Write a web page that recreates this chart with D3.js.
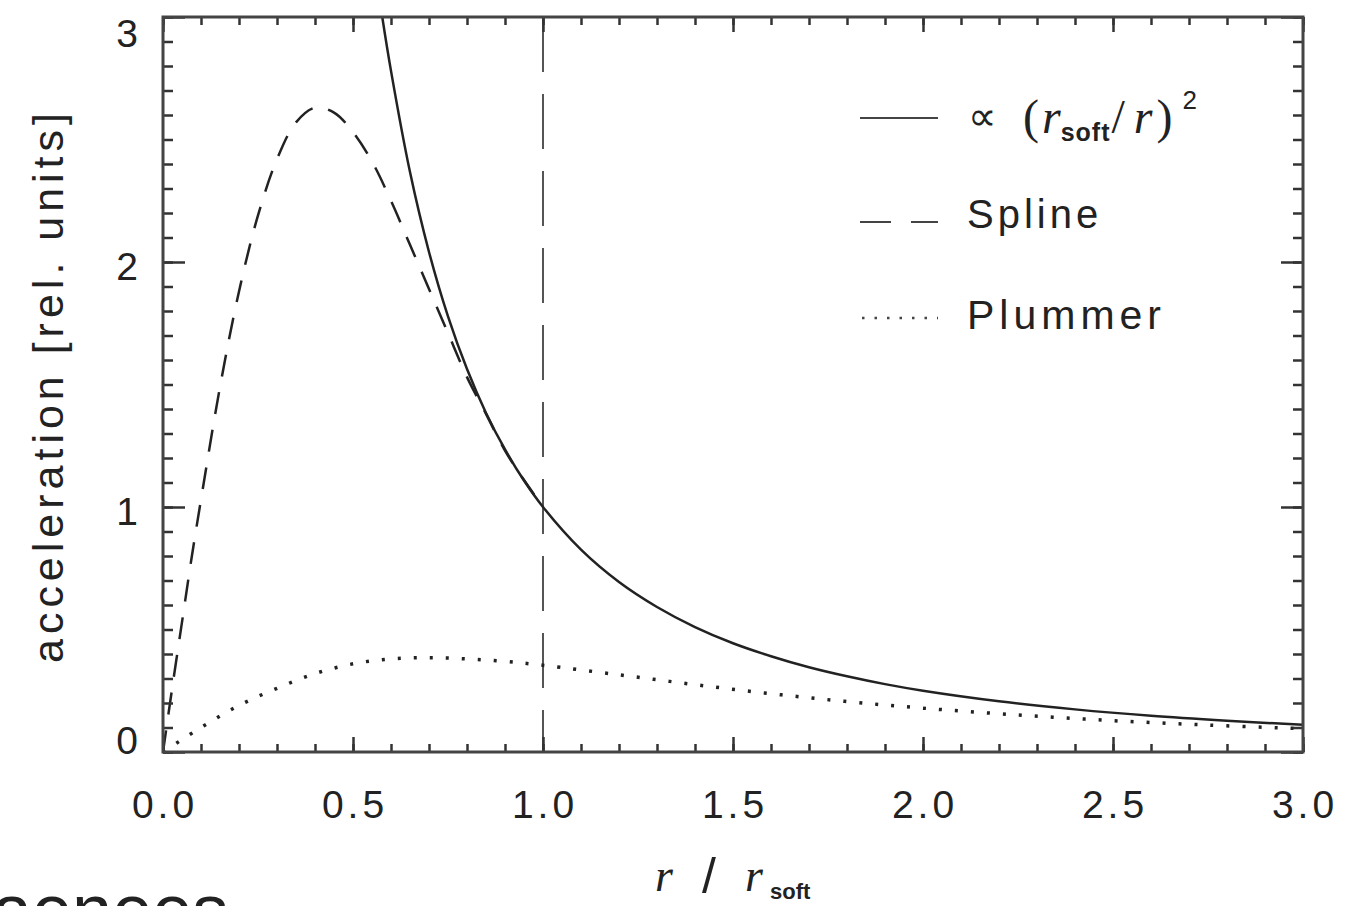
<!DOCTYPE html>
<html>
<head>
<meta charset="utf-8">
<script src="https://cdn.jsdelivr.net/npm/d3@7"></script>
<style>
  body { margin: 0; background: #fff; overflow: hidden; }
  text { fill: #222; }
</style>
</head>
<body>
<script>
var width = 1346,
    height = 906;

var margin = {top: 17, right: 43, bottom: 154, left: 163};

// values
var xTicks = [0.0, 0.5, 1.0, 1.5, 2.0, 2.5, 3.0];
var xTickLabels = ["0.0", "0.5", "1.0", "1.5", "2.0", "2.5", "3.0"];
var yTicks = [0, 1, 2, 3];
var yTickLabels = ["0", "1", "2", "3"];

// solid: proportional to (r_soft/r)^2
var solidR = [0.577, 0.6, 0.65, 0.7, 0.75, 0.8, 0.85, 0.9, 0.95, 1.0, 1.1, 1.2, 1.3, 1.4, 1.5, 1.6, 1.7, 1.8, 1.9, 2.0, 2.2, 2.4, 2.6, 2.8, 3.0];
var solidA = [3.0, 2.78, 2.367, 2.041, 1.778, 1.563, 1.384, 1.235, 1.108, 1.0, 0.826, 0.694, 0.592, 0.510, 0.444, 0.391, 0.346, 0.309, 0.277, 0.25, 0.207, 0.174, 0.148, 0.128, 0.111];

// dashed: spline softening
var splineR = [0, 0.025, 0.05, 0.075, 0.1, 0.15, 0.2, 0.25, 0.3, 0.35, 0.4, 0.45, 0.5, 0.55, 0.6, 0.65, 0.7, 0.75, 0.8, 0.85, 0.9, 0.95, 1.0];
var splineA = [0, 0.27, 0.53, 0.79, 1.03, 1.49, 1.88, 2.19, 2.42, 2.57, 2.63, 2.61, 2.53, 2.41, 2.25, 2.07, 1.89, 1.71, 1.53, 1.38, 1.23, 1.11, 1.0];

// dotted: Plummer softening
var plummerR = [0, 0.1, 0.2, 0.3, 0.4, 0.5, 0.6, 0.7, 0.8, 0.9, 1.0, 1.2, 1.4, 1.6, 1.8, 2.0, 2.25, 2.5, 2.75, 3.0];
var plummerA = [0, 0.10, 0.19, 0.26, 0.32, 0.36, 0.38, 0.385, 0.38, 0.37, 0.354, 0.315, 0.275, 0.238, 0.206, 0.179, 0.151, 0.128, 0.110, 0.095];

var softLine = 1.0;

var w = width - margin.left - margin.right,
    h = height - margin.top - margin.bottom;

var svg = d3.select("body").append("svg")
    .attr("width", width)
    .attr("height", height)
    .style("font-family", "'Liberation Sans', Arial, sans-serif");

var g = svg.append("g")
    .attr("transform", "translate(" + margin.left + "," + margin.top + ")");

var xScale = d3.scaleLinear().domain([0, 3]).range([0, w]);
var yScale = d3.scaleLinear().domain([0, 3]).range([h, 0]);

var zip = function (xs, ys) {
    return xs.map(function (x, i) { return {r: x, a: ys[i]}; });
};

g.append("clipPath").attr("id", "plotclip")
  .append("rect").attr("width", w).attr("height", h);

var line = d3.line()
    .x(function (d) { return xScale(d.r); })
    .y(function (d) { return yScale(d.a); })
    .curve(d3.curveCatmullRom.alpha(0.5));

var curves = g.append("g").attr("clip-path", "url(#plotclip)");

// vertical line at r = r_soft
curves.append("line")
    .attr("x1", xScale(softLine)).attr("x2", xScale(softLine))
    .attr("y1", yScale(3)).attr("y2", yScale(0))
    .attr("stroke", "#555")
    .attr("stroke-width", 2)
    .attr("stroke-dasharray", "55,22");

curves.append("path")
    .datum(zip(plummerR, plummerA))
    .attr("fill", "none")
    .attr("stroke", "#222")
    .attr("stroke-width", 3.5)
    .attr("stroke-dasharray", "3,13")
    .attr("d", line);

curves.append("path")
    .datum(zip(splineR, splineA))
    .attr("fill", "none")
    .attr("stroke", "#222")
    .attr("stroke-width", 2.5)
    .attr("stroke-dasharray", "22,16")
    .attr("d", line);

curves.append("path")
    .datum(zip(solidR, solidA))
    .attr("fill", "none")
    .attr("stroke", "#222")
    .attr("stroke-width", 2.5)
    .attr("d", line);

// axes: ticks point inward on all four sides
var xMinor = xScale.ticks(30);
var yMinor = yScale.ticks(30);

var styleAxis = function (sel) {
    sel.select(".domain").remove();
    sel.selectAll(".tick line").attr("stroke", "#333").attr("stroke-width", 2.5);
    sel.selectAll("text").remove();
};

g.append("g").attr("transform", "translate(0," + h + ")")
    .call(d3.axisBottom(xScale).tickValues(xMinor).tickSize(-8)).call(styleAxis);
g.append("g").attr("transform", "translate(0," + h + ")")
    .call(d3.axisBottom(xScale).tickValues(xTicks).tickSize(-15)).call(styleAxis);
g.append("g")
    .call(d3.axisTop(xScale).tickValues(xMinor).tickSize(-8)).call(styleAxis);
g.append("g")
    .call(d3.axisTop(xScale).tickValues(xTicks).tickSize(-15)).call(styleAxis);
g.append("g")
    .call(d3.axisLeft(yScale).tickValues(yMinor).tickSize(-10)).call(styleAxis);
g.append("g")
    .call(d3.axisLeft(yScale).tickValues(yTicks).tickSize(-22)).call(styleAxis);
g.append("g").attr("transform", "translate(" + w + ",0)")
    .call(d3.axisRight(yScale).tickValues(yMinor).tickSize(-10)).call(styleAxis);
g.append("g").attr("transform", "translate(" + w + ",0)")
    .call(d3.axisRight(yScale).tickValues(yTicks).tickSize(-22)).call(styleAxis);

g.append("rect")
    .attr("width", w).attr("height", h)
    .attr("fill", "none")
    .attr("stroke", "#444")
    .attr("stroke-width", 3);

// tick labels
g.selectAll(".xlab").data(xTicks).enter().append("text")
    .attr("class", "xlab")
    .attr("x", function (d) { return xScale(d) + 2; })
    .attr("y", h + 66)
    .attr("text-anchor", "middle")
    .style("font-size", "39px")
    .style("letter-spacing", "4px")
    .text(function (d, i) { return xTickLabels[i]; });

g.selectAll(".ylab").data(yTicks).enter().append("text")
    .attr("class", "ylab")
    .attr("x", -25)
    .attr("y", function (d) {
        var off = d === 3 ? 30 : (d === 0 ? 2 : 18);
        return yScale(d) + off;
    })
    .attr("text-anchor", "end")
    .style("font-size", "39px")
    .text(function (d, i) { return yTickLabels[i]; });

// axis titles
svg.append("text")
    .attr("transform", "translate(63,388) rotate(-90)")
    .attr("text-anchor", "middle")
    .attr("textLength", 550)
    .attr("lengthAdjust", "spacing")
    .style("font-size", "43px")
    .text("acceleration [rel. units]");

var xt = svg.append("g").style("font-family", "'Liberation Serif', 'Times New Roman', serif");
xt.append("text").attr("x", 655).attr("y", 891)
    .style("font-size", "46px").style("font-style", "italic").text("r");
xt.append("text").attr("x", 702).attr("y", 893)
    .style("font-size", "50px").style("font-family", "'Liberation Sans', sans-serif").text("/");
xt.append("text").attr("x", 745).attr("y", 891)
    .style("font-size", "46px").style("font-style", "italic").text("r");
xt.append("text").attr("x", 770).attr("y", 899)
    .style("font-size", "22px").style("font-weight", "bold")
    .style("font-family", "'Liberation Sans', sans-serif").text("soft");

// legend
var legX1 = 860, legX2 = 938;
var legend = svg.append("g");

legend.append("line").attr("x1", legX1).attr("x2", legX2).attr("y1", 118).attr("y2", 118)
    .attr("stroke", "#444").attr("stroke-width", 2);
legend.append("line").attr("x1", legX1).attr("x2", legX2).attr("y1", 222).attr("y2", 222)
    .attr("stroke", "#444").attr("stroke-width", 2).attr("stroke-dasharray", "31,20");
legend.append("line").attr("x1", legX1 + 2).attr("x2", legX2).attr("y1", 318).attr("y2", 318)
    .attr("stroke", "#444").attr("stroke-width", 2.5).attr("stroke-dasharray", "2.5,10");

var t1 = legend.append("text").attr("x", 968).attr("y", 133)
    .style("font-family", "'Liberation Serif', 'Times New Roman', serif")
    .style("font-size", "48px");
t1.append("tspan").style("font-size", "40px").attr("dy", -3).text("\u221D");
t1.append("tspan").attr("dx", 26).attr("dy", 3).text("(");
t1.append("tspan").style("font-style", "italic").attr("dx", 3).text("r");
t1.append("tspan").attr("dy", 8).style("font-size", "25px").style("font-weight", "bold")
    .style("letter-spacing", "1px")
    .style("font-family", "'Liberation Sans', sans-serif").text("soft");
t1.append("tspan").attr("dy", -8).attr("dx", 1).text("/");
t1.append("tspan").style("font-style", "italic").attr("dx", 9).text("r");
t1.append("tspan").attr("dx", 4).text(")");
t1.append("tspan").attr("dy", -24).attr("dx", 10).style("font-size", "26px")
    .style("font-family", "'Liberation Sans', sans-serif").text("2");

legend.append("text").attr("x", 967).attr("y", 228)
    .style("font-size", "40px").style("letter-spacing", "4px").text("Spline");
legend.append("text").attr("x", 967).attr("y", 329)
    .style("font-size", "41px").style("letter-spacing", "5px").text("Plummer");

// cropped fragment at the bottom edge
svg.append("text").attr("x", -8).attr("y", 935)
    .style("font-size", "72px").text("aenees");
</script>
</body>
</html>
